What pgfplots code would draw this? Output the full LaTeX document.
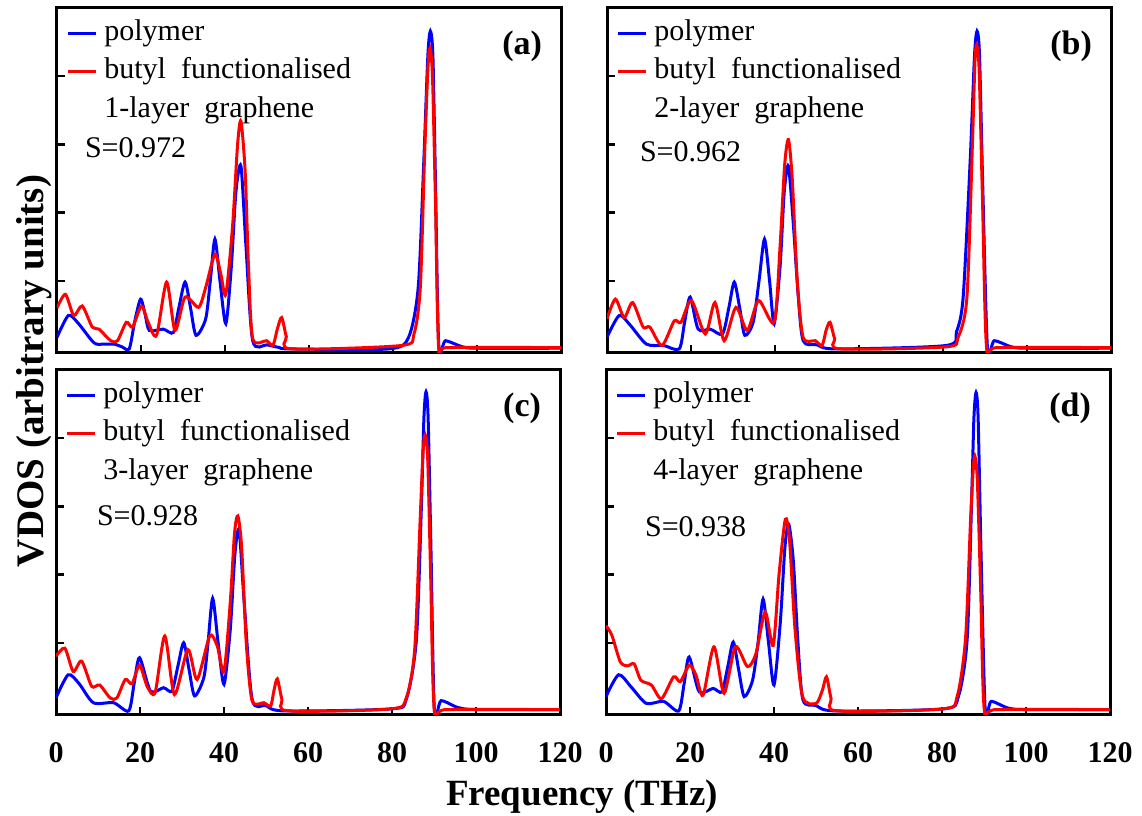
\documentclass[border=0pt]{standalone}
\usepackage{fontspec}
\setmainfont{Liberation Serif}
\usepackage{pgfplots}
\pgfplotsset{compat=1.18}

\pgfplotsset{
  vdos/.style={
    scale only axis, anchor=south west,
    width=252pt, height=172.5pt,
    xmin=0, xmax=120, ymin=-0.06, ymax=5,
    xtick={0,20,...,120}, ytick={1,2,3,4}, yticklabels={},
    tick align=inside, tick pos=left,
    major tick length=4pt,
    axis line style={line width=1.5pt},
    every tick/.style={black, line width=1.2pt},
    /pgf/number format/assume math mode=true,
    xticklabel style={font=\fontsize{15}{15}\selectfont\bfseries, yshift=-10pt},
    legend cell align=left,
    legend style={at={(rel axis cs:0,1)}, anchor=north west, draw=none, fill=none,
      font=\fontsize{15}{16}\selectfont, xshift=1.5pt, yshift=-2.5pt,
      /tikz/row sep=3.25pt,
      nodes={inner sep=1pt, text height=10.5pt, text depth=3.5pt}},
    legend image code/.code={\draw[#1, line width=1.5pt] (0pt,0pt) -- (14pt,0pt); \path (16.5pt,0pt);},
  },
  bottomrow/.style={xticklabels={0,20,40,60,80,100,120}},
  pol/.style={blue, line width=1.5pt, smooth, tension=0.45},
  but/.style={red, line width=1.5pt, smooth, tension=0.45},
}

\begin{document}
\begin{tikzpicture}
\useasboundingbox (0,0) rectangle (571pt,407.5pt);

% ---------------- (a)
\begin{axis}[vdos, at={(28.5pt,231pt)}, xticklabels={}]
\addplot[pol] coordinates {
(0,0.17) (2.7,0.49) (5,0.38) (8.8,0.09) (11,0.07) (13.6,0.07) (15.5,0.03) (17.2,0)
(18.5,0.4) (19.9,0.73) (21,0.5) (22,0.27) (25.3,0.29) (27.7,0.24) (29,0.6) (30.5,0.98)
(31.8,0.6) (33.1,0.2) (35.4,0.44) (36.5,1.0) (37.6,1.61) (38.8,1.0) (40.2,0.37)
(41.5,1.2) (42.6,2.3) (43.8,2.68) (45,1.5) (46.6,0.12) (50,0.06) (53,0.02) (55.5,0)
(79,0) (83.7,0.17) (86,0.9) (87.3,2.7) (88.3,4.3) (88.9,4.66) (89.5,4.3) (90.1,2.5)
(90.9,0.05) (92.5,0.12) (96.6,0.03) (100,0.01) (120,0.01)};
\addlegendentry{polymer}
\addplot[but] coordinates {
(0,0.6) (2,0.8) (4,0.49) (6,0.63) (8.4,0.32) (10,0.29) (12.8,0.12) (14.4,0.12)
(16.5,0.39) (18,0.32) (20.1,0.63) (21.7,0.39) (23.7,0.2) (26.1,0.98) (28.1,0.27)
(30.5,0.76) (33.7,0.61) (35.4,0.9) (37.6,1.39) (39,1.1) (40.2,0.8) (41.8,1.8) (43,3.0)
(43.8,3.34) (44.8,2.6) (45.6,1.2) (46.6,0.15) (49.9,0.12) (51.4,0.05) (52.5,0.3)
(53.5,0.46) (54.6,0.18) (55.8,0) (82,0.05) (85,0.22) (86.5,0.9) (87.5,2.8) (88.3,4.1)
(88.8,4.41) (89.4,4.0) (90.1,2.2) (90.9,0) (93,0.02) (120,0.02)};
\addlegendentry{butyl\ \ functionalised}
\addlegendimage{empty legend}
\addlegendentry{1-layer\ \ graphene}
\node[anchor=west, font=\fontsize{15}{15}\selectfont] at (rel axis cs:0,1) [xshift=10.5pt, yshift=-70pt] {S=0.972};
\node[anchor=north east, font=\fontsize{17}{17}\selectfont\bfseries] at (rel axis cs:1,1) [xshift=-6pt, yshift=-8pt] {(a)};
\end{axis}

% ---------------- (b)
\begin{axis}[vdos, at={(303.5pt,231pt)}, xticklabels={}]
\addplot[pol] coordinates {
(0,0.17) (2.9,0.49) (5.5,0.35) (9.4,0.07) (13.5,0.05) (17.2,0) (18.5,0.4) (19.8,0.76)
(21.7,0.29) (24.6,0.29) (27.5,0.22) (29,0.6) (30.3,0.98) (31.6,0.6) (32.8,0.2)
(34.8,0.39) (36.2,1.0) (37.5,1.61) (38.7,1.0) (39.8,0.37) (41.2,1.2) (42.2,2.3)
(43.2,2.68) (44.4,1.8) (45.5,0.8) (46.7,0.12) (50,0.06) (54.5,0) (80.7,0.05)
(83.2,0.25) (84.8,0.76) (86.5,2.8) (87.5,4.3) (88.1,4.66) (88.7,4.3) (89.5,2.3)
(90.6,0) (92.2,0.12) (96.3,0.03) (100,0.01) (120,0.01)};
\addlegendentry{polymer}
\addplot[but] coordinates {
(0,0.44) (2,0.73) (4.1,0.46) (6.1,0.68) (8.6,0.32) (10.2,0.32) (13.1,0.05) (16,0.41)
(17.6,0.39) (20.1,0.71) (23.4,0.22) (25.7,0.68) (27.9,0.12) (30.7,0.61) (33.4,0.27)
(36.1,0.71) (39.8,0.39) (41.2,1.5) (42.3,2.7) (43.2,3.07) (44.1,2.5) (45.3,1.0)
(46.7,0.17) (49.6,0.12) (51.2,0.05) (52.2,0.28) (53.1,0.39) (54.2,0.15) (55.5,0)
(80.7,0.03) (83.6,0.17) (85.7,0.76) (87,3.0) (87.6,4.2) (88,4.46) (88.6,4.1)
(89.4,2.2) (90.4,0) (93,0.02) (120,0.02)};
\addlegendentry{butyl\ \ functionalised}
\addlegendimage{empty legend}
\addlegendentry{2-layer\ \ graphene}
\node[anchor=west, font=\fontsize{15}{15}\selectfont] at (rel axis cs:0,1) [xshift=13pt, yshift=-72pt] {S=0.962};
\node[anchor=north east, font=\fontsize{17}{17}\selectfont\bfseries] at (rel axis cs:1,1) [xshift=-6pt, yshift=-8pt] {(b)};
\end{axis}

% ---------------- (c)
\begin{axis}[vdos, bottomrow, at={(28pt,50pt)}]
\addplot[pol] coordinates {
(0,0.19) (2.9,0.53) (5.5,0.4) (8.9,0.12) (13.7,0.12) (17.3,0) (18.6,0.4) (19.9,0.78)
(22.5,0.29) (25.6,0.34) (27.6,0.29) (29,0.65) (30.4,1.0) (31.7,0.6) (33,0.22)
(35.2,0.49) (36.2,1.0) (37.3,1.65) (38.6,1.0) (40,0.39) (41.5,1.2) (42.6,2.3)
(43.6,2.65) (44.8,1.6) (46.7,0.17) (50,0.08) (54.3,0) (79.8,0.03) (83.4,0.17)
(85.8,1.04) (87,3.0) (87.6,4.3) (88.1,4.68) (88.6,4.3) (89.3,2.3) (90.1,0) (91.7,0.15)
(95.7,0.05) (100,0.02) (120,0.02)};
\addlegendentry{polymer}
\addplot[but] coordinates {
(0,0.8) (2.1,0.92) (4.1,0.58) (6.1,0.73) (8.5,0.36) (10.4,0.38) (12.9,0.19) (14.5,0.19)
(16.5,0.46) (18.1,0.4) (19.9,0.67) (21.7,0.36) (23.6,0.27) (25.9,1.1) (28.2,0.24)
(31.4,0.9) (33.6,0.46) (36.6,1.1) (38.4,0.95) (40,0.58) (41.5,1.6) (42.5,2.6)
(43.3,2.86) (44.2,2.4) (45.3,1.0) (46.7,0.15) (49.5,0.12) (51.1,0.07) (51.9,0.3)
(52.7,0.47) (53.8,0.17) (55.3,0) (79.8,0.03) (83.4,0.19) (85.4,0.9) (86.7,2.8)
(87.4,3.8) (87.9,4.05) (88.5,3.7) (89.2,2.0) (90.1,0) (93,0.02) (120,0.02)};
\addlegendentry{butyl\ \ functionalised}
\addlegendimage{empty legend}
\addlegendentry{3-layer\ \ graphene}
\node[anchor=west, font=\fontsize{15}{15}\selectfont] at (rel axis cs:0,1) [xshift=17pt, yshift=-73pt] {S=0.928};
\node[anchor=north east, font=\fontsize{17}{17}\selectfont\bfseries] at (rel axis cs:1,1) [xshift=-6pt, yshift=-8pt] {(c)};
\end{axis}

% ---------------- (d)
\begin{axis}[vdos, bottomrow, at={(303pt,50pt)}]
\addplot[pol] coordinates {
(0,0.21) (3,0.53) (6,0.35) (9.6,0.11) (13.7,0.14) (17.3,0) (18.6,0.4) (19.8,0.79)
(22.2,0.28) (25.5,0.33) (27.6,0.28) (29,0.65) (30.3,1.01) (31.6,0.6) (32.9,0.21)
(34.9,0.45) (36.2,1.0) (37.4,1.64) (38.7,1.0) (40,0.38) (41.5,1.3) (42.6,2.4)
(43.5,2.74) (44.6,2.2) (45.7,1.0) (46.9,0.16) (50,0.08) (54.5,0) (80.3,0.03)
(83.9,0.21) (86,1.06) (87.1,3.2) (87.6,4.3) (88.1,4.67) (88.6,4.3) (89.3,2.3)
(90.3,0) (91.7,0.14) (95.8,0.04) (100,0.02) (120,0.02)};
\addlegendentry{polymer}
\addplot[but] coordinates {
(0,1.25) (1.4,1.11) (3.4,0.72) (5.1,0.66) (6.7,0.69) (8.3,0.45) (10.8,0.38)
(13.2,0.18) (16.1,0.5) (17.7,0.43) (19.8,0.67) (21.4,0.53) (23.1,0.23) (25.7,0.94)
(28.1,0.26) (30.8,0.94) (33.7,0.65) (35.7,0.84) (37.9,1.45) (39.8,0.96) (41.2,2.0)
(42.7,2.81) (43.7,2.5) (45,1.2) (46.8,0.21) (50,0.11) (51.5,0.3) (52.5,0.5)
(53.6,0.18) (55,0) (80.3,0.03) (83.6,0.21) (85.6,1.06) (86.8,2.8) (87.4,3.5)
(87.8,3.74) (88.4,3.4) (89.2,1.8) (90.1,0) (93,0.02) (120,0.02)};
\addlegendentry{butyl\ \ functionalised}
\addlegendimage{empty legend}
\addlegendentry{4-layer\ \ graphene}
\node[anchor=west, font=\fontsize{15}{15}\selectfont] at (rel axis cs:0,1) [xshift=16pt, yshift=-78.5pt] {S=0.938};
\node[anchor=north east, font=\fontsize{17}{17}\selectfont\bfseries] at (rel axis cs:1,1) [xshift=-6pt, yshift=-8pt] {(d)};
\end{axis}

\node[anchor=base, font=\fontsize{18.5}{19}\selectfont\bfseries] at (291pt,5pt) {Frequency (THz)};
\node[anchor=base, rotate=90, font=\fontsize{19.5}{19}\selectfont\bfseries] at (21.5pt,222pt) {VDOS (arbitrary units)};
\end{tikzpicture}
\end{document}
